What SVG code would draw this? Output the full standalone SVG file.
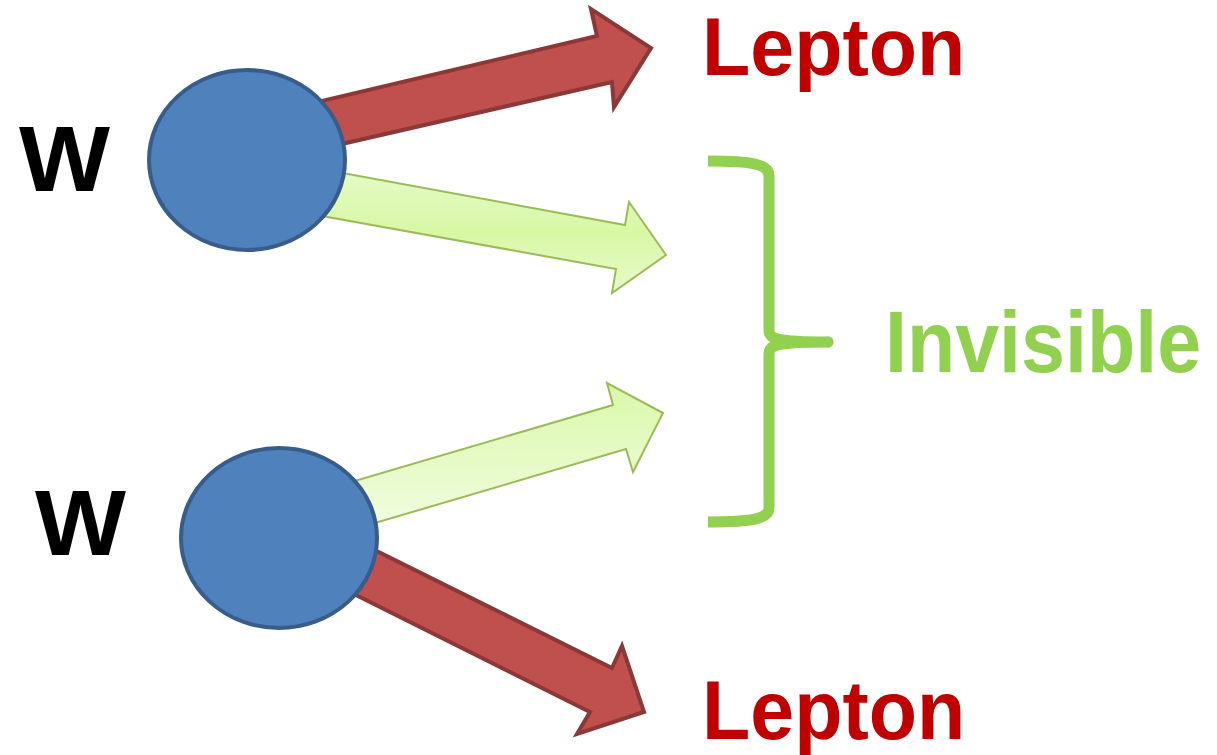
<svg xmlns="http://www.w3.org/2000/svg" width="1217" height="755" viewBox="0 0 1217 755">
<style>
.red{fill:#C0504D;stroke:#8C3836;stroke-width:4;stroke-linejoin:miter}
.grn{stroke:#9BBB59;stroke-width:2;stroke-linejoin:miter}
.ball{fill:#4F81BD;stroke:#385D8A;stroke-width:4}
.lbl{font-family:"Liberation Sans",Arial,sans-serif;font-weight:bold}
</style>
<defs>
<linearGradient id="g1" x1="0" y1="0" x2="0" y2="1">
<stop offset="0" stop-color="#E8FBCF"/>
<stop offset="0.55" stop-color="#D8F7A4"/>
<stop offset="1" stop-color="#E6FBCB"/>
</linearGradient>
<linearGradient id="g2" x1="0" y1="0" x2="0" y2="1">
<stop offset="0" stop-color="#DAF8AA"/>
<stop offset="1" stop-color="#F4FDE8"/>
</linearGradient>
</defs>
<g id="connectors">
<polygon id="arrow-lepton-top" class="red" points="250,118 597,36 591,9 651,48 614,107 612,82 250,165"/>
<polygon id="arrow-invisible-top" class="grn" fill="url(#g1)" points="250,156 625,225 629,202 666,255 612,293 616,269 250,203"/>
<polygon id="arrow-invisible-bottom" class="grn" fill="url(#g2)" points="280,503 613,405 607,383 663,413 633,472 626,449 280,551"/>
<polygon id="arrow-lepton-bottom" class="red" points="280,503 612,668 622,646 644,712 577,734 590,712 280,557"/>
</g>
<g id="w-top">
<ellipse class="ball" cx="247" cy="160" rx="98" ry="90"/>
<text class="lbl" x="19" y="191" font-size="92" textLength="91" lengthAdjust="spacingAndGlyphs" fill="#000">W</text>
</g>
<g id="w-bottom">
<ellipse class="ball" cx="279" cy="538" rx="98" ry="90"/>
<text class="lbl" x="35" y="555" font-size="92" textLength="91" lengthAdjust="spacingAndGlyphs" fill="#000">W</text>
</g>
<g id="lepton-top">
<text class="lbl" transform="translate(702,75) scale(1,1.03)" x="0" y="0" font-size="79" fill="#C00000">Lepton</text>
</g>
<g id="lepton-bottom">
<text class="lbl" transform="translate(702,739) scale(1,1.05)" x="0" y="0" font-size="79" fill="#C00000">Lepton</text>
</g>
<g id="invisible">
<path d="M708,161 C752,161 769,164 769,176 L769,330 C769,339 776,342 828,342 C776,342 769,345 769,354 L769,508 C769,519 752,522 708,522" fill="none" stroke="#92D050" stroke-width="11" stroke-linejoin="round"/>
<circle cx="828" cy="342" r="5.5" fill="#92D050"/>
<text class="lbl" transform="translate(885,372) scale(1,1.1)" x="0" y="0" font-size="79" fill="#92D050">Invisible</text>
</g>
</svg>
